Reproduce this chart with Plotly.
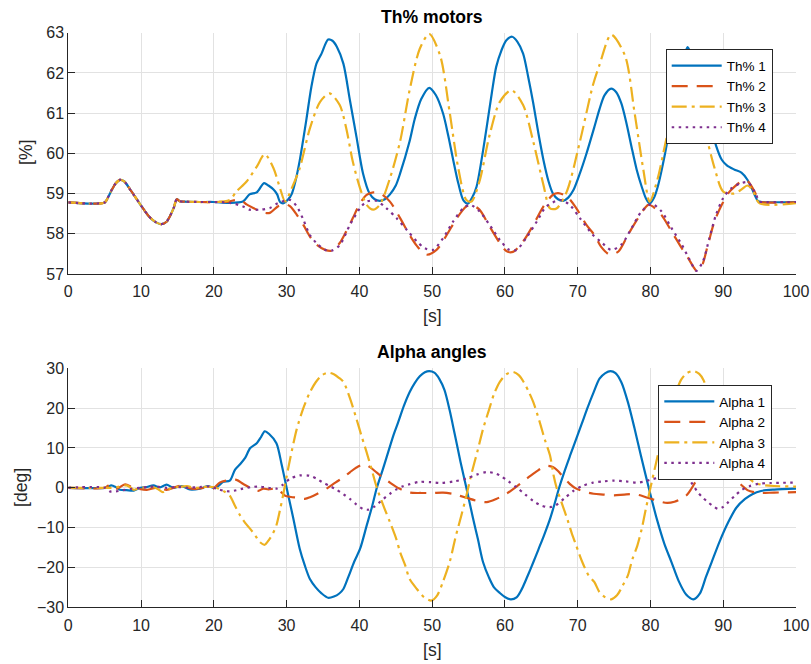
import plotly.graph_objects as go

# ---------------- Thrust percentage of the four motors ----------------
t_th1 = [0, 5.0, 5.5, 6.0, 6.5, 7.1, 7.7, 8.5, 9, 10, 11, 12, 12.8, 13.5, 14, 14.5, 14.9, 15.3, 16, 18, 20,
         22, 24, 24.9, 25.9, 26.9, 27.5, 28.2, 28.7, 29.1, 29.6, 30.2, 30.7, 31.2, 31.8, 32.7, 33.4, 34.1,
         34.8, 35.7, 36.3, 36.9, 37.8, 38.7, 39.6, 40.5, 41.4, 42.1, 42.8, 43.5, 44.2, 45.0, 45.6, 46.9,
         47.6, 48.5, 49.6, 50.5, 51.5, 52.2, 52.9, 53.6, 54.3, 54.9, 55.5, 56.1, 56.8, 57.5, 58.2, 58.8,
         59.5, 60.2, 61.0, 61.7, 62.5, 63.2, 63.9, 64.6, 65.3, 66.0, 66.6, 67.3, 68.0, 68.7, 69.4, 70.3,
         71.2, 72.3, 73.0, 73.7, 74.6, 75.3, 76.0, 76.7, 77.4, 78.1, 78.8, 79.4, 79.9, 80.5, 81.0, 82.0,
         83.0, 84.0, 84.7, 85.1, 85.6, 86.3, 87.0, 87.7, 88.4, 89.0, 89.8, 90.5, 91.5, 92.5, 93.3, 94.0,
         94.8, 95.3, 100]
th1 = [58.78, 58.78, 58.92, 59.1, 59.25, 59.34, 59.3, 59.1, 58.97, 58.7, 58.45, 58.29, 58.24, 58.3, 58.45,
       58.65, 58.86, 58.81, 58.8, 58.79, 58.79,
       58.77, 58.8, 58.98, 59.03, 59.26, 59.2, 59.1, 58.98, 58.79, 58.76, 58.85, 58.99, 59.3, 59.82, 60.82,
       61.65, 62.23, 62.48, 62.83, 62.8, 62.65, 62.23, 61.32, 60.41, 59.5, 59.0, 58.86, 58.82, 58.86,
       58.98, 59.2, 59.5, 60.3, 60.85, 61.35, 61.63, 61.45, 60.99, 60.45, 59.83, 59.25, 58.83, 58.75,
       58.9, 59.17, 59.85, 60.66, 61.5, 62.15, 62.55, 62.81, 62.9, 62.78, 62.48, 61.9, 61.24, 60.5,
       59.83, 59.3, 59.0, 58.86, 58.82, 58.9, 59.08, 59.5, 59.99, 60.66, 61.1, 61.45, 61.61, 61.52,
       61.24, 60.75, 60.16, 59.6, 59.17, 58.87, 58.75, 58.9, 59.17, 59.99, 61.0, 61.95, 62.45, 62.64,
       62.45, 62.0, 61.5, 61.0, 60.6, 60.2, 59.84, 59.7, 59.6, 59.52, 59.35, 59.1, 58.81, 58.79, 58.79]

t_th2 = [0, 5.0, 5.5, 6.0, 6.5, 7.1, 7.7, 8.5, 9, 10, 11, 12, 12.8, 13.5, 14, 14.5, 14.9, 15.3, 16, 18, 20,
         22, 23.1, 24.0, 24.5, 25.9, 27.0, 27.7, 28.8, 29.8, 30.5, 31.4, 32.3, 33.2, 34.1, 35.3, 36.2,
         37.3, 38.2, 39.1, 40.1, 41.0, 41.9, 42.8, 44.2, 45.6, 46.9, 47.9, 49.2, 50.6, 52.0, 53.4, 54.7,
         55.4, 56.5, 57.9, 59.3, 60.2, 61.1, 62.5, 63.9, 65.3, 66.6, 67.3, 68.5, 69.8, 71.2, 72.3, 73.2,
         74.4, 75.6, 76.9, 78.3, 79.7, 80.3, 81.5, 82.9, 84.3, 85.2, 85.9, 86.3, 87.0, 87.9, 88.8, 89.8,
         90.7, 91.6, 92.7, 93.4, 94.3, 95.0, 95.5, 100]
th2 = [58.78, 58.78, 58.92, 59.1, 59.25, 59.34, 59.3, 59.1, 58.97, 58.7, 58.45, 58.29, 58.24, 58.3, 58.45,
       58.65, 58.86, 58.81, 58.8, 58.79, 58.79,
       58.8, 58.84, 58.8, 58.73, 58.6, 58.52, 58.52, 58.68, 58.74, 58.68, 58.47, 58.22, 57.93, 57.73,
       57.6, 57.58, 57.77, 58.06, 58.39, 58.76, 58.97, 59.03, 59.01, 58.8, 58.39, 57.97, 57.7, 57.48,
       57.6, 57.97, 58.39, 58.68, 58.72, 58.6, 58.18, 57.77, 57.57, 57.55, 57.81, 58.22, 58.68, 58.97,
       59.01, 58.93, 58.64, 58.22, 57.97, 57.68, 57.48, 57.56, 57.97, 58.39, 58.72, 58.68, 58.47,
       58.06, 57.64, 57.39, 57.18, 57.09, 57.18, 57.73, 58.31, 58.72, 59.01, 59.18, 59.32, 59.3, 59.05,
       58.8, 58.78, 58.78]

t_th3 = [0, 5.0, 5.5, 6.0, 6.5, 7.1, 7.7, 8.5, 9, 10, 11, 12, 12.8, 13.5, 14, 14.5, 14.9, 15.3, 16, 18, 20,
         21.2, 22.2, 23.1, 24.5, 25.9, 27.0, 28.2, 29.1, 29.8, 30.7, 31.8, 33.2, 34.6, 35.9, 37.3, 38.2,
         39.1, 40.1, 41.0, 41.9, 42.8, 44.2, 45.6, 46.9, 48.3, 49.6, 51.1, 52.4, 53.6, 54.7, 55.4, 56.5,
         57.9, 59.3, 60.9, 62.5, 63.9, 65.3, 66.2, 67.1, 68.5, 70.3, 72.1, 73.0, 74.6, 76.5, 77.8, 79.0,
         79.9, 81.0, 82.1, 83.0, 84.0, 85.0, 86.0, 87.0, 87.5, 88.8, 90.0, 91.5, 92.5, 93.3, 94.0, 95.0,
         100]
th3 = [58.78, 58.78, 58.92, 59.1, 59.25, 59.34, 59.3, 59.1, 58.97, 58.7, 58.45, 58.29, 58.24, 58.3, 58.45,
       58.65, 58.86, 58.81, 58.8, 58.79, 58.79,
       58.8, 58.84, 59.05, 59.3, 59.67, 59.98, 59.63, 59.13, 58.8, 59.13, 59.63, 60.62, 61.28, 61.49,
       61.2, 60.62, 59.79, 59.13, 58.72, 58.6, 58.72, 59.38, 60.3, 61.57, 62.6, 62.97, 62.43, 61.03,
       59.62, 58.84, 58.8, 59.3, 60.46, 61.28, 61.57, 61.2, 60.29, 59.21, 58.63, 58.63, 59.05, 60.29,
       61.7, 62.2, 62.95, 62.43, 61.03, 59.62, 58.8, 59.38, 60.29, 61.0, 61.45, 61.6, 61.4, 60.9, 60.55,
       59.64, 59.05, 59.0, 59.1, 59.2, 59.1, 58.76, 58.76]

t_th4 = [0, 5.0, 5.5, 6.0, 6.5, 7.1, 7.7, 8.5, 9, 10, 11, 12, 12.8, 13.5, 14, 14.5, 14.9, 15.3, 16, 18, 20,
         22.2, 24.0, 24.9, 26.3, 27.7, 28.8, 30.5, 31.4, 32.3, 33.2, 34.1, 35.3, 36.2, 37.3, 38.7, 40.1,
         41.0, 42.3, 43.7, 45.1, 46.5, 47.9, 49.0, 50.1, 51.5, 52.9, 54.3, 55.2, 56.5, 57.9, 59.3, 60.6,
         61.6, 62.9, 64.4, 65.7, 67.6, 68.9, 70.3, 72.1, 73.2, 74.6, 76.0, 77.4, 78.8, 80.2, 81.5, 82.9,
         84.3, 85.4, 86.3, 87.2, 88.1, 89.0, 90.0, 91.1, 92.5, 93.4, 94.3, 95.0, 95.5, 100]
th4 = [58.78, 58.78, 58.92, 59.1, 59.25, 59.34, 59.3, 59.1, 58.97, 58.7, 58.45, 58.29, 58.24, 58.3, 58.45,
       58.65, 58.86, 58.81, 58.8, 58.79, 58.79,
       58.77, 58.68, 58.6, 58.6, 58.64, 58.76, 58.84, 58.68, 58.35, 57.97, 57.77, 57.6, 57.58, 57.72,
       58.22, 58.64, 58.8, 58.82, 58.64, 58.39, 58.1, 57.81, 57.64, 57.6, 57.89, 58.31, 58.64, 58.72,
       58.56, 58.22, 57.85, 57.6, 57.6, 57.89, 58.31, 58.68, 58.84, 58.72, 58.39, 57.97, 57.8, 57.6,
       57.73, 58.14, 58.56, 58.74, 58.56, 58.14, 57.73, 57.35, 57.08, 57.31, 57.89, 58.47, 58.89,
       59.13, 59.26, 59.28, 59.05, 58.8, 58.79, 58.79]

# ---------------- Alpha angles ----------------
t_a1 = [0, 5, 5.5, 5.9, 6.5, 7.1, 8, 9, 9.9, 10.8, 11.7, 12.6, 13.5, 14.4, 15.6, 16.7, 18.1, 19.2, 19.9,
        20.5, 21.3, 22.2, 22.9, 23.6, 24.3, 25, 25.9, 26.5, 27, 27.6, 28.6, 29.3, 30, 30.9, 31.8, 32.5,
        33.2, 34, 34.8, 35.7, 36.5, 37.2, 37.8, 38.5, 39.3, 40.1, 41, 41.7, 42.4, 43.2, 44, 44.7, 45.3,
        46.1, 46.9, 47.6, 48.3, 49, 49.6, 50.3, 51, 51.7, 52.4, 53.1, 53.9, 54.7, 55.6, 56.3, 57, 57.8,
        58.5, 59.3, 60, 60.8, 61.6, 62.3, 63.1, 63.9, 64.6, 65.4, 66.2, 66.8, 67.45, 68.2, 69, 69.8, 70.6,
        71.4, 72.2, 73, 73.8, 74.5, 75.2, 76, 76.9, 77.8, 78.7, 79.9, 80.9, 81.9, 82.9, 83.9, 84.9, 85.9,
        86.8, 87.6, 88.4, 89.5, 90.7, 91.8, 93, 94, 95.2, 97, 100]
a1 = [0, 0, 0.3, 0.6, 0.2, -0.5, -0.6, -0.7, 0, 0.2, 0.6, 0.1, 0.8, 0, 0.4, -0.4, -0.2, 0.4, 0,
      0.3, 1.5, 1.8, 4.5, 5.9, 7.5, 10, 11.2, 12.8, 14.2, 13.5, 11.2, 6, 0, -7.5, -15.3, -19.5,
      -22.9, -25, -26.5, -27.6, -27.3, -26.6, -25.4, -22.3, -18.5, -15.3, -9.5, -5, 0, 4.5, 9.2, 13.3,
      16.3, 20.5, 24, 26.3, 28, 29, 29.3, 28.9, 27.3, 24.5, 19.5, 13.5, 6.5, 0, -7.5, -13, -18.7, -22.5,
      -25, -26.4, -27.4, -28, -27.5, -25.5, -22.2, -18.7, -15.5, -11.8, -7.8, -4.2, 0, 4.2, 8.3, 12.3,
      16.3, 20.3, 24, 27.4, 28.8, 29.3, 28.8, 26.5, 21.5, 15, 8, -1, -8, -14, -18.7, -23.5, -26.8, -28,
      -26.5, -22.5, -18.7, -13.5, -8.6, -5, -2.8, -1.6, -0.8, -0.45, -0.2]

t_a2 = [0, 5, 5.7, 6.6, 7.8, 9, 10.8, 12.1, 13.5, 15.4, 17.2, 18.6, 19.9, 20.8, 21.7, 23.1, 24, 25, 26.1,
        26.8, 27.5, 28.6, 29.2, 29.8, 30.6, 31.4, 32.5, 33.3, 34.1, 35.5, 36.7, 37.8, 38.7, 39.6, 40.75,
        41.6, 42.4, 43.3, 44.2, 45.5, 46.9, 48.5, 50, 51.5, 53, 54.7, 56, 57.5, 58.8, 60.2, 61.6, 63,
        64.4, 65.7, 66.6, 67.3, 68, 68.9, 69.8, 71, 72.2, 73.5, 75, 76.4, 77.8, 78.8, 79.6, 81, 82.3,
        83.3, 84.2, 85, 85.6, 86.3, 87, 87.9, 88.8, 89.5, 90.2, 90.9, 91.6, 92.5, 93.4, 94.3, 95.2, 97,
        100]
a2 = [0, 0, 0.75, -0.25, 0.85, 0, -0.5, 0, -0.5, 0.5, -0.3, 0, -0.2, 1.3, 1.8, 2, 1, 0, -0.75,
      -0.2, -0.4, -0.2, -1, -2, -2.3, -2.5, -2.8, -2.3, -1.6, -0.2, 1.3, 2.6, 3.9, 5.1, 5.95,
      5, 3.8, 2.5, 1.3, -0.2, -1.2, -1.3, -1.3, -1.2, -1.6, -2.5, -3.2, -3.6, -2.8, -1.5, 0.3, 2.3,
      4.2, 5.5, 5.2, 4.2, 2.7, 1, -0.2, -1, -1.5, -1.7, -1.9, -1.7, -1.6, -2, -2.5, -3.3, -3.8,
      -3.5, -2.8, -1.8, -0.3, 1.8, 3.5, 4.8, 5.45, 5.3, 4.8, 3.6, 2.3, 0.7, -0.65, -1.1, -1.3, -1.2,
      -1.1]

t_a3 = [0, 5, 6.2, 7, 8, 8.6, 9, 10, 11.5, 12.3, 13, 13.7, 14.4, 15.5, 16.3, 17.5, 18.5, 19.9, 20.9,
        21.5, 22.2, 22.9, 23.6, 24.3, 25, 25.7, 26.3, 27, 27.6, 28.1, 28.6, 29.1, 29.5, 30.2, 30.8, 31.4,
        32.3, 33.2, 34, 34.8, 35.7, 36.5, 37.2, 37.8, 38.7, 39.6, 40.3, 41, 41.7, 42.4, 43.3, 44.2, 45.1,
        45.6, 46.3, 46.9, 47.9, 48.9, 49.9, 50.7, 51.5, 52.4, 53.2, 54, 54.7, 55.4, 56.2, 57, 57.8, 58.5,
        59.3, 60.2, 61.1, 61.9, 62.6, 63.3, 63.9, 64.7, 65.5, 66.2, 66.7, 67.1, 67.8, 68.6, 69.2, 69.8,
        70.6, 71.5, 72.3, 73, 73.8, 74.6, 75.4, 76.2, 76.9, 77.5, 78.2, 78.8, 79.4, 80, 80.8, 81.5, 82.3,
        83, 83.6, 84.2, 85, 85.9, 86.7, 87.3, 88, 88.7, 89.4, 90.1, 90.8, 91.5, 92.3, 93.2, 94.3, 95.5,
        97, 100]
a3 = [0, 0, 0, 0.3, 0.6, 0, -0.5, 0, 0.2, -0.3, -1.1, -0.4, 0, 0.3, 0.4, 0, 0.2, 0.2, -0.4,
      -1, -2, -4.5, -6.9, -8.8, -10.3, -12, -13.6, -14.3, -13, -11.5, -9.4, -5.5, -2, 4.7, 10, 14.8,
      20, 24, 26.5, 28.2, 28.9, 28.5, 27.6, 26.6, 22.5, 17.3, 13, 8.9, 4.5, 0, -4.5, -8.6, -13,
      -16.2, -19.5, -22.9, -25.4, -27.5, -28.3, -27, -23.5, -18.7, -12.5, -7, -2, 3.5, 9, 14.8, 19.5,
      23.5, 26.6, 28.5, 29.1, 28.3, 26.5, 24, 21.5, 17, 12, 8.1, 3, 0, -3.8, -8, -11.5, -14.5,
      -18.5, -22, -23.7, -26.2, -27.5, -28, -27, -24.5, -22, -18, -14.5, -10.3, -5, 0, 6.5, 12, 17.5,
      21.5, 24.5, 27.1, 28.8, 29.3, 28.6, 27, 23, 18.5, 14.5, 11.2, 8.8, 7, 5.4, 3, 1.3, 0.7,
      0.45, 0.3]

t_a4 = [0, 5, 5.7, 6.5, 7.5, 8.5, 9.9, 11, 12.1, 13.5, 15, 16.5, 18, 19.5, 20.5, 21.5, 22.2, 23.1, 24,
        25.2, 26.3, 27.5, 28.6, 29.5, 30.5, 31.8, 33.2, 34.2, 35, 36, 36.8, 37.8, 38.7, 39.6, 40.5, 41.2,
        42, 42.6, 43.3, 44.2, 45.1, 46, 46.9, 48.3, 49.8, 51.2, 53, 54.7, 56.1, 57.5, 58.5, 59.3, 60.5,
        61.6, 62.8, 63.9, 64.8, 65.7, 66.4, 67, 68.2, 69.4, 70.7, 72.1, 73.5, 75, 76.6, 78.2, 79.2, 80.1,
        81, 81.9, 82.8, 83.7, 84.4, 85.1, 85.8, 86.5, 87.2, 87.9, 88.6, 89.3, 90, 90.7, 91.6, 92.5, 93.6,
        94.8, 96.5, 100]
a4 = [0, 0, -0.9, -0.9, -0.6, -0.3, 0, 0.2, 0.3, 0, 0.2, 0, 0.2, 0.3, -0.3, -0.8, -0.9, -0.6, -0.2,
      0.2, 0.3, 0, -0.2, 0.8, 2.3, 3.1, 3, 2.2, 1.3, 0.4, -0.4, -1.6, -2.8, -4.2, -5.3, -5.5,
      -4.8, -3.9, -2.8, -1.5, -0.4, 0.4, 0.9, 1.5, 1.4, 1.2, 1.6, 2.3, 3.3, 3.95, 3.7, 3.1, 1.6,
      0.1, -1.7, -3.3, -4.3, -4.8, -4.8, -4.4, -2.6, -0.8, 0.5, 1.3, 1.6, 1.8, 1.6, 1.3, 1.6, 2.1,
      2.5, 2.9, 3.4, 3.8, 3.4, 2.6, 0.8, -1.1, -2.5, -3.6, -4.6, -5.3, -4.8, -3.6, -2, -0.6, 0.4,
      1, 1.2, 1.3]

x_ticks = list(range(0, 101, 10))
th_ticks = [57, 58, 59, 60, 61, 62, 63]
alpha_ticks = [-30, -20, -10, 0, 10, 20, 30]

colors = ["#0072BD", "#D95319", "#EDB120", "#7E2F8E"]
dashes = ["solid", "16px,9px", "15px,5px,3px,5px", "2.5px,4.5px"]

FONT = "Liberation Sans, Arial, Helvetica, sans-serif"
INK = "#262626"

fig = go.Figure()

top_series = [(t_th1, th1, "Th% 1"), (t_th2, th2, "Th% 2"), (t_th3, th3, "Th% 3"), (t_th4, th4, "Th% 4")]
for i, (t, v, name) in enumerate(top_series):
    fig.add_trace(go.Scatter(
        x=t, y=v, name=name, mode="lines", xaxis="x", yaxis="y", legend="legend",
        line=dict(color=colors[i], width=2.2, dash=dashes[i], shape="spline", smoothing=0.8),
    ))

bottom_series = [(t_a1, a1, "Alpha 1"), (t_a2, a2, "Alpha 2"), (t_a3, a3, "Alpha 3"), (t_a4, a4, "Alpha 4")]
for i, (t, v, name) in enumerate(bottom_series):
    fig.add_trace(go.Scatter(
        x=t, y=v, name=name, mode="lines", xaxis="x2", yaxis="y2", legend="legend2",
        line=dict(color=colors[i], width=2.2, dash=dashes[i], shape="spline", smoothing=0.8),
    ))

W, H = 811, 664
x0, x1 = 68.3, 796.0
top_y0, top_y1 = 32.7, 274.0
bot_y0, bot_y1 = 368.3, 607.3


def axis_style(**kw):
    d = dict(
        showline=True, linecolor=INK, linewidth=1, mirror=False,
        ticks="inside", ticklen=7, tickwidth=1, tickcolor=INK,
        showgrid=True, gridcolor="#e2e2e2", gridwidth=1, zeroline=False,
        tickfont=dict(family=FONT, size=16, color=INK),
        automargin=False,
    )
    d.update(kw)
    return d


legend_common = dict(
    xanchor="left", yanchor="top",
    bgcolor="white", bordercolor=INK, borderwidth=1,
    font=dict(family=FONT, size=13.5, color="#000000"),
    itemwidth=50, tracegroupgap=0,
)

fig.update_layout(
    template="none",
    width=W, height=H,
    margin=dict(l=0, r=0, t=0, b=0, autoexpand=False),
    paper_bgcolor="white", plot_bgcolor="white",
    font=dict(family=FONT, color=INK),
    xaxis=axis_style(domain=[x0 / W, x1 / W], range=[0, 100], tickvals=x_ticks, anchor="y",
                     ticklabelstandoff=3),
    yaxis=axis_style(domain=[1 - top_y1 / H, 1 - top_y0 / H], range=[57, 63], tickvals=th_ticks, anchor="x"),
    xaxis2=axis_style(domain=[x0 / W, x1 / W], range=[0, 100], tickvals=x_ticks, anchor="y2",
                      ticklabelstandoff=3),
    yaxis2=axis_style(domain=[1 - bot_y1 / H, 1 - bot_y0 / H], range=[-30, 30], tickvals=alpha_ticks, anchor="x2"),
    legend=dict(x=665.7 / W, y=1 - 49.3 / H, **legend_common),
    legend2=dict(x=658.3 / W, y=1 - 385 / H, **legend_common),
    showlegend=True,
)

xc = (x0 + x1) / 2 / W
annotations = [
    dict(text="<b>Th% motors</b>", x=xc, y=1 - 17 / H, font=dict(size=17.6, color="#000000")),
    dict(text="<b>Alpha angles</b>", x=xc, y=1 - 352 / H, font=dict(size=17.6, color="#000000")),
    dict(text="[s]", x=xc, y=1 - 316 / H, font=dict(size=17.6, color=INK)),
    dict(text="[s]", x=xc, y=1 - 650 / H, font=dict(size=17.6, color=INK)),
    dict(text="[%]", x=26 / W, y=1 - 153 / H, textangle=-90, font=dict(size=17.6, color=INK)),
    dict(text="[deg]", x=21 / W, y=1 - 488 / H, textangle=-90, font=dict(size=17.6, color=INK)),
]
for a in annotations:
    fig.add_annotation(xref="paper", yref="paper", xanchor="center", yanchor="middle",
                       showarrow=False, font_family=FONT, **a)

fig.write_html("out.html")
